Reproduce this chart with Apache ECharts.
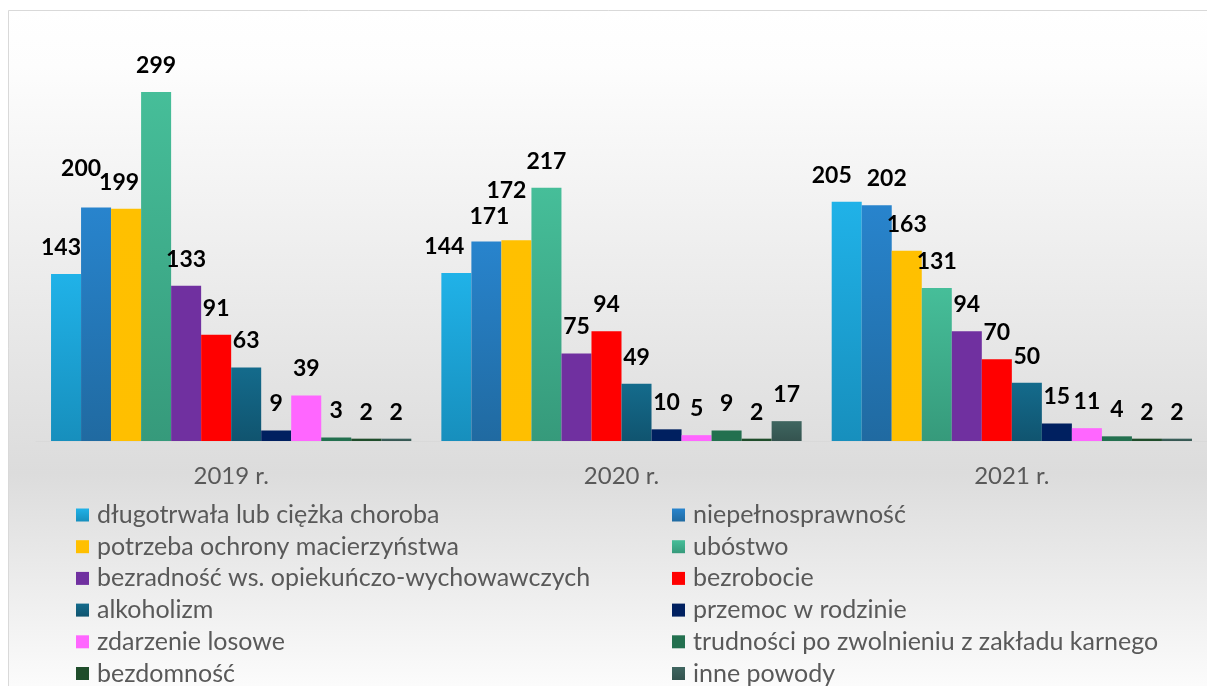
<!DOCTYPE html>
<html>
<head>
<meta charset="utf-8">
<script src="https://cdn.jsdelivr.net/npm/echarts@6/dist/echarts.min.js"></script>
<style>
  html, body { margin: 0; padding: 0; background: #fff; }
  #chart { width: 1207px; height: 686px; }
</style>
</head>
<body>
<div id="chart"></div>
<script>
// lata
const years = ['2019 r.', '2020 r.', '2021 r.']

// powody przyznania pomocy
const reasons = [
  'długotrwała lub ciężka choroba',
  'niepełnosprawność',
  'potrzeba ochrony macierzyństwa',
  'ubóstwo',
  'bezradność ws. opiekuńczo-wychowawczych',
  'bezrobocie',
  'alkoholizm',
  'przemoc w rodzinie',
  'zdarzenie losowe',
  'trudności po zwolnieniu z zakładu karnego',
  'bezdomność',
  'inne powody'
]

// wartości: 2019, 2020, 2021
const choroba = [143, 144, 205]
const niepelnosprawnosc = [200, 171, 202]
const macierzynstwo = [199, 172, 163]
const ubostwo = [299, 217, 131]
const bezradnosc = [133, 75, 94]
const bezrobocie = [91, 94, 70]
const alkoholizm = [63, 49, 50]
const przemoc = [9, 10, 15]
const zdarzenie = [39, 5, 11]
const trudnosci = [3, 9, 4]
const bezdomnosc = [2, 2, 2]
const inne = [2, 17, 2]

const values = [choroba, niepelnosprawnosc, macierzynstwo, ubostwo, bezradnosc, bezrobocie,
  alkoholizm, przemoc, zdarzenie, trudnosci, bezdomnosc, inne]

// kolory: góra / dół słupka
const colors = [
  ['#20b2e8', '#178fbd'],
  ['#2884cd', '#206aa1'],
  ['#ffc000', '#ffbf00'],
  ['#46be99', '#369a7b'],
  ['#7030a0', '#7030a0'],
  ['#ff0000', '#ff0000'],
  ['#146b8c', '#10546f'],
  ['#002060', '#002060'],
  ['#ff66ff', '#ff66ff'],
  ['#23704f', '#23704f'],
  ['#1f4d2b', '#1f4d2b'],
  ['#3f6660', '#34534f']
]

// przesunięcia etykiet, żeby się nie nakładały (seria-rok)
const labelShift = {
  '0-0': [-5, 0], '1-0': [-15, -12], '2-0': [-7, 0],
  '0-1': [-12, 0], '1-1': [3, 2], '2-1': [-10, -23],
  '0-2': [-15, 0], '1-2': [10, 0]
}

function grad(c) {
  return new echarts.graphic.LinearGradient(0, 0, 0, 1, [
    {offset: 0, color: c[0]},
    {offset: 1, color: c[1]}
  ])
}

const FONT = 'Lato'

const series = reasons.map((name, i) => ({
  name: name,
  type: 'bar',
  data: values[i].map((v, j) => {
    let s = labelShift[i + '-' + j]
    return s ? {value: v, label: {offset: s}} : v
  }),
  barGap: '0%',
  barCategoryGap: '7.7%',
  itemStyle: {color: grad(colors[i])},
  label: {
    show: true,
    position: 'top',
    distance: 15,
    color: '#000',
    fontFamily: FONT,
    fontWeight: 'bold',
    fontSize: 23
  }
}))

const legendBase = {
  orient: 'vertical',
  icon: 'rect',
  itemWidth: 13,
  itemHeight: 13,
  itemGap: 6.7,
  height: 220,
  padding: 0,
  selectedMode: false,
  textStyle: {color: '#595959', fontFamily: FONT, fontSize: 25, lineHeight: 25, padding: [0, 0, 0, 3]}
}

const chart = echarts.init(document.getElementById('chart'))
chart.setOption({
  animation: false,
  graphic: [{
    type: 'rect',
    z: -10,
    shape: {x: 8.5, y: 10.5, width: 1220, height: 700},
    style: {
      fill: new echarts.graphic.LinearGradient(0, 0, 0, 1, [
        {offset: 0, color: '#ffffff'},
        {offset: 0.08, color: '#fdfdfd'},
        {offset: 0.66, color: '#dcdcdc'},
        {offset: 1, color: '#ffffff'}
      ]),
      stroke: '#d9d9d9',
      lineWidth: 1
    }
  }],
  grid: {left: 36, top: 32.5, width: 1178, height: 408.5},
  xAxis: {
    type: 'category',
    data: years,
    axisLine: {show: true, lineStyle: {color: '#d9d9d9'}},
    axisTick: {show: false},
    axisLabel: {color: '#595959', fontFamily: FONT, fontSize: 24, margin: 23}
  },
  yAxis: {
    type: 'value',
    min: 0,
    max: 350,
    show: false,
    splitLine: {show: false}
  },
  legend: [
    Object.assign({}, legendBase, {left: 76, top: 502.5, data: reasons.filter((r, i) => i % 2 === 0)}),
    Object.assign({}, legendBase, {left: 672, top: 502.5, data: reasons.filter((r, i) => i % 2 === 1)})
  ],
  series: series
})
</script>
</body>
</html>
